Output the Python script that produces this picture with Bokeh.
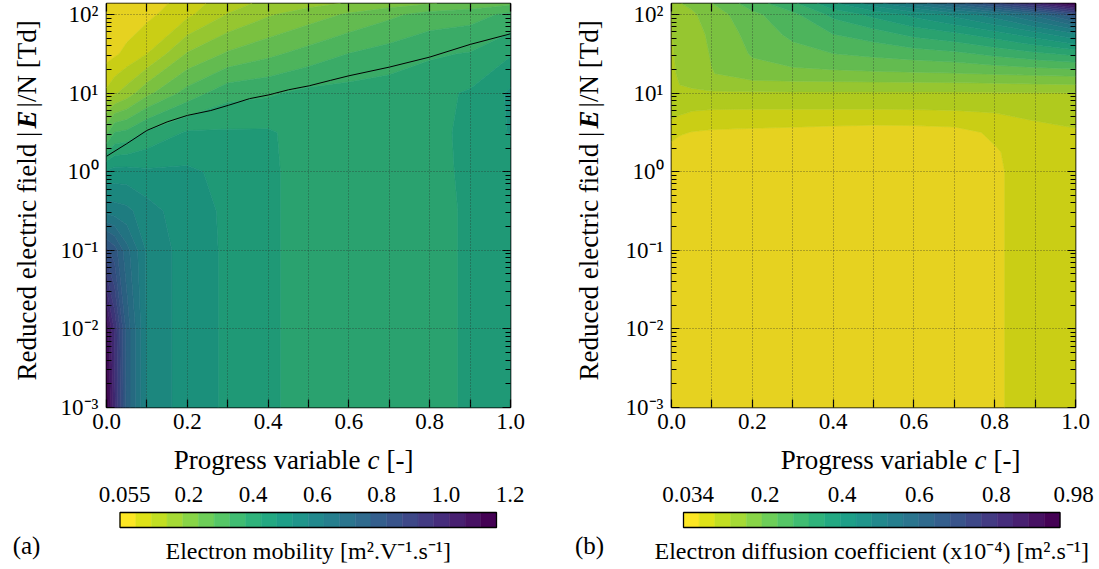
import numpy as np
from bokeh.plotting import figure
from bokeh.plotting.contour import contour_data
from bokeh.models import (Range1d, FixedTicker, CustomJSTickFormatter, LinearAxis,
                          LogAxis, ColumnDataSource)
from bokeh.layouts import row
from bokeh.palettes import viridis
from bokeh.core.properties import value
from bokeh.embed import file_html
from bokeh.resources import INLINE

# ---------------- data ----------------
c_grid = [0.0, 0.02, 0.05, 0.1, 0.2, 0.3, 0.4, 0.5, 0.6, 0.7, 0.8, 0.9, 1.0]

# (a) electron mobility, rows = reduced field E/N [Td] (bottom -> top)
E_grid_mobility = [1e-3, 1e-2, 1e-1, 0.316, 1.0, 3.16, 10.0, 31.6, 100.0, 138.0]
mobility = [
    [1.19, 1.02, 0.80, 0.62, 0.555, 0.525, 0.495, 0.46, 0.455, 0.455, 0.46, 0.495, 0.50],
    [1.14, 1.00, 0.80, 0.62, 0.555, 0.525, 0.495, 0.46, 0.455, 0.455, 0.46, 0.495, 0.50],
    [0.88, 0.84, 0.74, 0.62, 0.555, 0.525, 0.495, 0.46, 0.455, 0.455, 0.46, 0.495, 0.50],
    [0.66, 0.65, 0.64, 0.60, 0.55, 0.525, 0.495, 0.46, 0.455, 0.455, 0.46, 0.495, 0.50],
    [0.54, 0.55, 0.55, 0.54, 0.54, 0.52, 0.495, 0.46, 0.455, 0.455, 0.46, 0.50, 0.51],
    [0.33, 0.39, 0.40, 0.445, 0.49, 0.49, 0.49, 0.465, 0.46, 0.46, 0.465, 0.50, 0.535],
    [0.16, 0.19, 0.22, 0.28, 0.36, 0.42, 0.43, 0.45, 0.455, 0.46, 0.47, 0.49, 0.54],
    [0.085, 0.095, 0.115, 0.15, 0.25, 0.30, 0.33, 0.36, 0.39, 0.41, 0.43, 0.44, 0.48],
    [0.062, 0.066, 0.072, 0.09, 0.14, 0.20, 0.24, 0.27, 0.30, 0.33, 0.36, 0.37, 0.40],
    [0.057, 0.06, 0.064, 0.078, 0.125, 0.18, 0.21, 0.23, 0.25, 0.27, 0.29, 0.31, 0.33],
]

# black curve drawn on panel (a)
line_c = [0.0, 0.05, 0.1, 0.15, 0.2, 0.258, 0.302, 0.354, 0.402, 0.45, 0.502, 0.554,
          0.6, 0.7, 0.8, 0.9, 1.0]
line_E = [1.57, 2.27, 3.35, 4.3, 5.2, 6.0, 7.0, 8.5, 9.5, 11.0, 12.4, 14.5,
          16.6, 21.4, 28.7, 41.6, 56.8]

# (b) electron diffusion coefficient (x1e-4)
E_grid_diffusion = [1e-3, 1e-1, 1.0, 1.78, 3.16, 5.62, 10.0, 17.8, 31.6, 56.2, 100.0, 138.0]
diffusion = [
    [0.05, 0.05, 0.05, 0.05, 0.05, 0.05, 0.05, 0.05, 0.05, 0.05, 0.068, 0.09, 0.095],
    [0.05, 0.05, 0.05, 0.05, 0.05, 0.05, 0.05, 0.05, 0.05, 0.05, 0.068, 0.09, 0.095],
    [0.05, 0.05, 0.05, 0.05, 0.05, 0.05, 0.05, 0.05, 0.05, 0.05, 0.068, 0.09, 0.095],
    [0.055, 0.052, 0.05, 0.05, 0.05, 0.05, 0.05, 0.05, 0.05, 0.052, 0.07, 0.092, 0.097],
    [0.09, 0.078, 0.072, 0.068, 0.065, 0.062, 0.058, 0.055, 0.056, 0.06, 0.08, 0.10, 0.108],
    [0.125, 0.118, 0.11, 0.106, 0.105, 0.105, 0.105, 0.105, 0.106, 0.108, 0.113, 0.122, 0.13],
    [0.14, 0.148, 0.148, 0.148, 0.148, 0.148, 0.148, 0.148, 0.148, 0.148, 0.148, 0.15, 0.15],
    [0.145, 0.158, 0.165, 0.19, 0.215, 0.22, 0.222, 0.225, 0.227, 0.23, 0.235, 0.24, 0.245],
    [0.148, 0.162, 0.17, 0.195, 0.235, 0.255, 0.27, 0.28, 0.29, 0.30, 0.32, 0.34, 0.36],
    [0.15, 0.168, 0.175, 0.20, 0.245, 0.28, 0.31, 0.33, 0.36, 0.38, 0.41, 0.45, 0.50],
    [0.152, 0.175, 0.185, 0.21, 0.26, 0.30, 0.36, 0.40, 0.44, 0.48, 0.53, 0.60, 0.70],
    [0.16, 0.19, 0.20, 0.23, 0.29, 0.34, 0.42, 0.49, 0.56, 0.64, 0.73, 0.84, 0.96],
]

x_ticks = [0.0, 0.1, 0.2, 0.3, 0.4, 0.5, 0.6, 0.7, 0.8, 0.9, 1.0]
x_tick_labels = ["0.0", "", "0.2", "", "0.4", "", "0.6", "", "0.8", "", "1.0"]
y_ticks = [1e-3, 1e-2, 1e-1, 1e0, 1e1, 1e2]
y_tick_labels = ["10\u207b\u00b3", "10\u207b\u00b2", "10\u207b\u00b9", "10\u2070", "10\u00b9", "10\u00b2"]

cbar_a_range = (0.055, 1.2)
cbar_a_labels = ["0.055", "0.2", "0.4", "0.6", "0.8", "1.0", "1.2"]
cbar_b_range = (0.034, 0.98)
cbar_b_labels = ["0.034", "0.2", "0.4", "0.6", "0.8", "0.98"]
n_bands = 24

# ---------------- styling / layout constants ----------------
FONT = "Liberation Serif"
PAL = list(viridis(n_bands))[::-1]


def shade(hexcol, f=0.91):
    r, g, b = (int(hexcol[i:i + 2], 16) for i in (1, 3, 5))
    return "#%02x%02x%02x" % (int(r * f), int(g * f), int(b * f))


PAL_PLOT = [shade(c) for c in PAL]
y_minor = [k * 10.0 ** n for n in range(-3, 2) for k in range(2, 10)]

FRAME = 404
TOP_B = 12
BOT_B = 36
MAIN_H = TOP_B + FRAME + BOT_B
CB_H = 126
CB_W = 376.5
YL_W = 50


def style_axis(ax, labels=True):
    ax.axis_line_color = None
    ax.major_tick_in = 8
    ax.major_tick_out = 0
    ax.minor_tick_in = 5
    ax.minor_tick_out = 0
    ax.major_tick_line_color = "black"
    ax.minor_tick_line_color = "black"
    ax.major_tick_line_width = 1.2
    ax.minor_tick_line_width = 1.0
    ax.major_label_text_font = FONT
    ax.major_label_text_color = "black"
    if labels:
        ax.major_label_text_font_size = "23px"
    else:
        ax.major_label_text_font_size = "1px"
        ax.major_label_standoff = 0


def label_fmt(vals, labs, log=False):
    if log:
        code = ("const i = tv.findIndex(t => Math.abs(t / tick - 1) < 1e-6);"
                "return i < 0 ? '' : tl[i];")
    else:
        code = ("const i = tv.findIndex(t => Math.abs(t - tick) < 1e-6);"
                "return i < 0 ? '' : tl[i];")
    return CustomJSTickFormatter(args=dict(tv=list(vals), tl=list(labs)), code=code)


def blank_fig(width, height, x_range, y_range, top=0, bottom=0):
    f = figure(width=width, height=height, x_range=x_range, y_range=y_range,
               output_backend="svg", toolbar_location=None,
               x_axis_location=None, y_axis_location=None,
               min_border_left=0, min_border_right=0,
               min_border_top=top, min_border_bottom=bottom)
    f.grid.visible = False
    f.outline_line_color = None
    return f


def make_ylabel(label_x):
    # y-axis title: "Reduced electric field |E|/N [Td]" with bold-italic E
    f = blank_fig(YL_W, MAIN_H, Range1d(0, YL_W), Range1d(0, FRAME), TOP_B, BOT_B)
    kw = dict(angle=np.pi / 2, text_baseline="middle", text_font=value(FONT),
              text_font_size="27px", text_color="black")
    f.text(x=[label_x], y=[276], text=["Reduced electric field |"], text_align="right", **kw)
    f.text(x=[label_x], y=[288], text=["E"], text_align="center",
           text_font_style="bold italic", **kw)
    f.text(x=[label_x], y=[300], text=["|/N [Td]"], text_align="left", **kw)
    return f


def make_main(E_grid, Z, vrange, width, left, line=None):
    vmin, vmax = vrange
    p = figure(width=width, height=MAIN_H, x_range=Range1d(0, 1),
               y_range=Range1d(1e-3, 138), y_axis_type="log",
               output_backend="svg", toolbar_location=None,
               min_border_left=left, min_border_right=width - left - FRAME,
               min_border_top=TOP_B, min_border_bottom=BOT_B)
    levels = np.linspace(vmin, vmax, n_bands + 1)
    X, Y = np.meshgrid(np.array(c_grid), np.log10(np.array(E_grid)))
    cd = contour_data(X, Y, np.array(Z), levels, want_line=False)
    fd = cd.fill_data
    xs = [[[np.asarray(r).tolist() for r in poly] for poly in lev] for lev in fd.xs]
    ys = [[[np.power(10.0, np.asarray(r)).tolist() for r in poly] for poly in lev] for lev in fd.ys]
    src = ColumnDataSource(dict(xs=xs, ys=ys, color=PAL_PLOT))
    p.multi_polygons(xs="xs", ys="ys", fill_color="color", line_color="color",
                     line_width=0.6, source=src)
    if line is not None:
        p.line(line[0], line[1], line_color="black", line_width=1.0)

    p.xaxis.ticker = FixedTicker(ticks=x_ticks)
    p.xaxis.formatter = label_fmt(x_ticks, x_tick_labels)
    p.xaxis.major_label_standoff = 6
    p.yaxis.ticker = FixedTicker(ticks=y_ticks, minor_ticks=y_minor)
    p.yaxis.formatter = label_fmt(y_ticks, y_tick_labels, log=True)
    p.yaxis.major_label_standoff = 8
    for ax in p.xaxis + p.yaxis:
        style_axis(ax)
    top = LinearAxis(ticker=FixedTicker(ticks=x_ticks),
                     formatter=CustomJSTickFormatter(code="return '';"))
    rgt = LogAxis(ticker=FixedTicker(ticks=y_ticks, minor_ticks=y_minor),
                  formatter=CustomJSTickFormatter(code="return '';"))
    style_axis(top, labels=False)
    style_axis(rgt, labels=False)
    p.add_layout(top, "above")
    p.add_layout(rgt, "right")

    p.xgrid.ticker = FixedTicker(ticks=x_ticks)
    p.ygrid.ticker = FixedTicker(ticks=y_ticks)
    p.grid.grid_line_color = "#2a2a2a"
    p.grid.grid_line_alpha = 0.75
    p.grid.grid_line_dash = "1 2"
    p.grid.grid_line_width = 0.8
    p.grid.level = "overlay"
    p.outline_line_color = "black"
    p.outline_line_width = 1.6
    return p


def make_cbar(vrange, labels, title, tag, width, bar_left, tag_x, c_x):
    vmin, vmax = vrange
    per_px = (vmax - vmin) / CB_W
    x0 = vmin - bar_left * per_px
    x1 = vmin + (width - bar_left) * per_px

    def at(px):
        return x0 + px * per_px

    q = blank_fig(width, CB_H, Range1d(x0, x1), Range1d(0, CB_H))
    # x-axis title of the panel above: "Progress variable c [-]"
    kw = dict(text_baseline="alphabetic", text_font=value(FONT), text_font_size="27px",
              text_color="black")
    q.text(x=[at(c_x - 13)], y=[110], text=["Progress variable"], text_align="right", **kw)
    q.text(x=[at(c_x)], y=[110], text=["c"], text_align="center", text_font_style="italic", **kw)
    q.text(x=[at(c_x + 13)], y=[110], text=["[-]"], text_align="left", **kw)

    levels = np.linspace(vmin, vmax, n_bands + 1)
    q.quad(left=levels[:-1], right=levels[1:], bottom=42, top=57,
           fill_color=PAL, line_color=PAL, line_width=0.5)
    q.quad(left=[vmin], right=[vmax], bottom=[42], top=[57], fill_color=None,
           line_color="black", line_width=1.3)
    pos = vmin + np.linspace(0.012, 1.036, len(labels)) * (vmax - vmin)
    q.text(x=pos, y=[75] * len(labels), text=labels, text_font=value(FONT),
           text_font_size="23px", text_align="center", text_baseline="middle",
           text_color="black")
    q.text(x=[(vmin + vmax) / 2], y=[19], text=[title], text_font=value(FONT),
           text_font_size="24px", text_align="center", text_baseline="alphabetic",
           text_color="black")
    q.text(x=[at(tag_x)], y=[24], text=[tag], text_font=value(FONT),
           text_font_size="25px", text_align="center", text_baseline="alphabetic",
           text_color="black")
    return q


W_A, W_B = 516, 483
yl_a = make_ylabel(26)
p_a = make_main(E_grid_mobility, mobility, cbar_a_range, W_A, 56, line=(line_c, line_E))
yl_b = make_ylabel(22)
p_b = make_main(E_grid_diffusion, diffusion, cbar_b_range, W_B, 55)

q_a = make_cbar(cbar_a_range, cbar_a_labels,
                "Electron mobility [m\u00b2.V\u207b\u00b9.s\u207b\u00b9]", "(a)",
                YL_W + W_A, 119.5, 26, 373)
q_b = make_cbar(cbar_b_range, cbar_b_labels,
                "Electron diffusion coefficient (x10\u207b\u2074) [m\u00b2.s\u207b\u00b9]", "(b)",
                YL_W + W_B, 117, 23, 414)

top_row = row(yl_a, p_a, yl_b, p_b)
top_row.margin = (-9, 0, 0, 0)
bottom_row = row(q_a, q_b)

open("out.html", "w").write(file_html([top_row, bottom_row], INLINE))
